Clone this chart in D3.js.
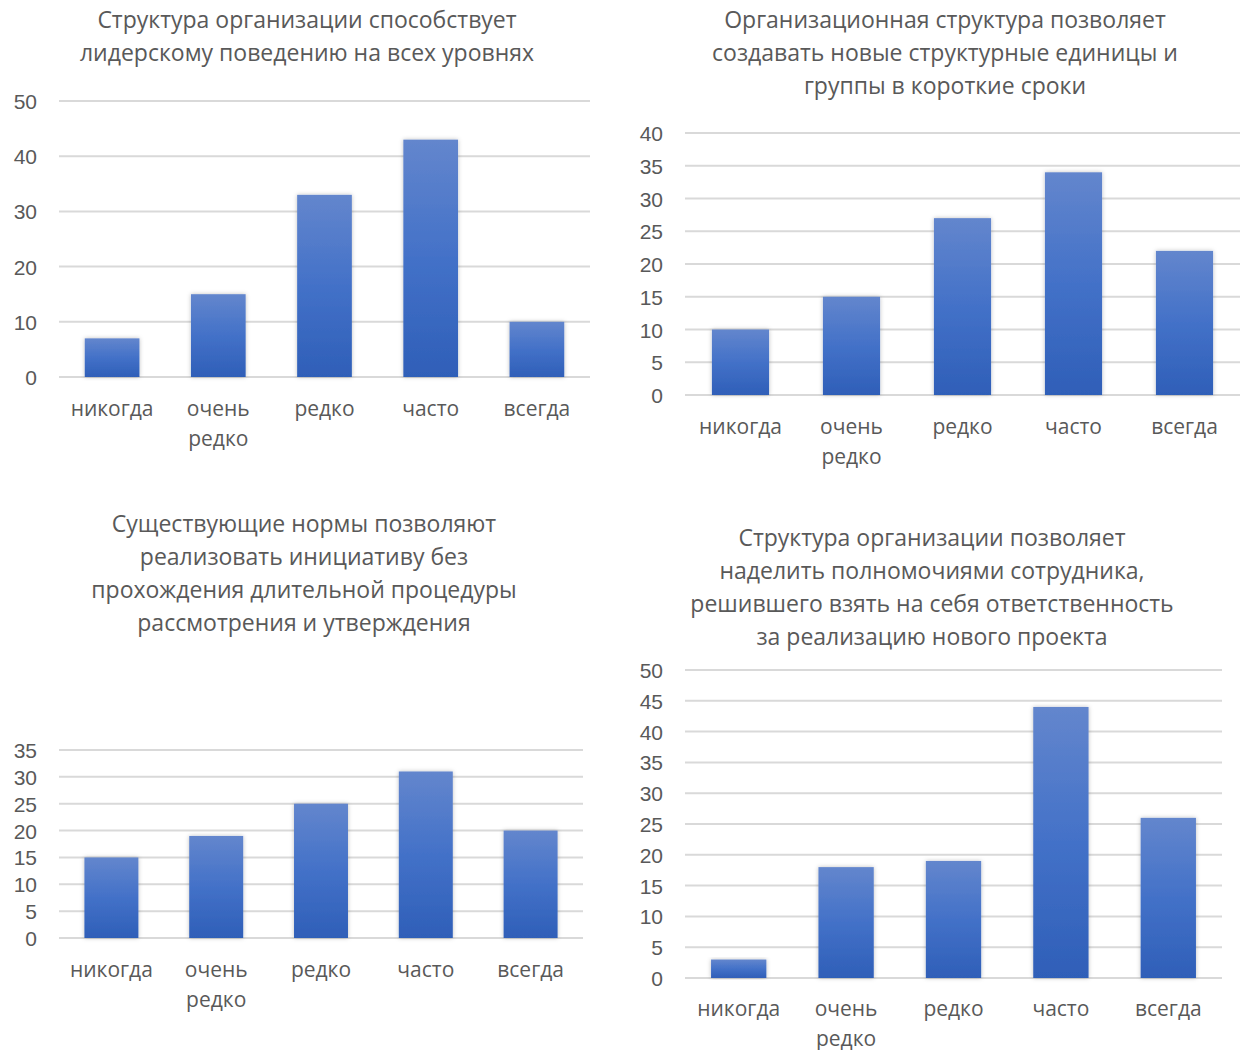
<!DOCTYPE html>
<html>
<head>
<meta charset="utf-8">
<script src="https://cdn.jsdelivr.net/npm/d3@7"></script>
<style>
  html, body { margin: 0; padding: 0; background: #fff; }
  svg { display: block; font-family: "Open Sans", "Noto Sans", sans-serif; }
</style>
</head>
<body>
<svg id="chart" width="1248" height="1050"></svg>
<script>
// Answer categories shared by all four survey questions
const categories = ["никогда", "очень редко", "редко", "часто", "всегда"];

// Responses per question
const valuesA = [7, 15, 33, 43, 10];
const valuesB = [10, 15, 27, 34, 22];
const valuesC = [15, 19, 25, 31, 20];
const valuesD = [3, 18, 19, 44, 26];

// Chart titles, one entry per line
const titleA = ["Структура организации способствует", "лидерскому поведению на всех уровнях"];
const titleB = ["Организационная структура позволяет", "создавать новые структурные единицы и", "группы в короткие сроки"];
const titleC = ["Существующие нормы позволяют", "реализовать инициативу без", "прохождения длительной процедуры", "рассмотрения и утверждения"];
const titleD = ["Структура организации позволяет", "наделить полномочиями сотрудника,", "решившего взять на себя ответственность", "за реализацию нового проекта"];

// Y axis ranges and tick steps
const yMaxA = 50, yStepA = 10;
const yMaxB = 40, yStepB = 5;
const yMaxC = 35, yStepC = 5;
const yMaxD = 50, yStepD = 5;

const svg = d3.select("#chart");
const defs = svg.append("defs");

const grad = defs.append("linearGradient")
  .attr("id", "barFill").attr("x1", 0).attr("y1", 0).attr("x2", 0).attr("y2", 1);
grad.append("stop").attr("offset", "0%").attr("stop-color", "#6386cd");
grad.append("stop").attr("offset", "50%").attr("stop-color", "#4371c8");
grad.append("stop").attr("offset", "100%").attr("stop-color", "#2f5fb8");

const shadow = defs.append("filter").attr("id", "barShadow")
  .attr("x", "-20%").attr("y", "-10%").attr("width", "140%").attr("height", "120%");
shadow.append("feDropShadow").attr("dx", 0).attr("dy", 0).attr("stdDeviation", 2)
  .attr("flood-color", "#000").attr("flood-opacity", 0.25);

const textColor = "#595959";

function drawChart(cfg) {
  const g = svg.append("g");

  const x = d3.scaleBand()
    .domain(categories)
    .range([cfg.left, cfg.right])
    .paddingInner(0.485)
    .paddingOuter(0.2425);

  const y = d3.scaleLinear()
    .domain([0, cfg.yMax])
    .range([cfg.bottom, cfg.top]);

  const ticks = d3.range(0, cfg.yMax + cfg.step / 2, cfg.step);

  // Horizontal gridlines
  g.append("g").selectAll("line").data(ticks).join("line")
    .attr("x1", cfg.left).attr("x2", cfg.right)
    .attr("y1", d => y(d)).attr("y2", d => y(d))
    .attr("stroke", "#d9d9d9").attr("stroke-width", 2);

  // Y axis labels
  const yAxis = d3.axisLeft(y).tickValues(ticks).tickSize(0).tickPadding(0);
  const ya = g.append("g").attr("transform", `translate(${cfg.tickX},0)`).call(yAxis);
  ya.select(".domain").remove();
  ya.selectAll("text")
    .attr("fill", textColor).style("font-size", "21px")
    .attr("dy", "0.36em");

  // Bars
  g.append("g").selectAll("rect").data(cfg.values).join("rect")
    .attr("x", (d, i) => x(categories[i]))
    .attr("width", x.bandwidth())
    .attr("y", d => y(d))
    .attr("height", d => y(0) - y(d))
    .attr("fill", "url(#barFill)")
    .attr("filter", "url(#barShadow)");

  // Category labels (wrapped on spaces)
  const xa = g.append("g");
  categories.forEach(c => {
    const words = c.split(" ");
    const t = xa.append("text")
      .attr("x", x(c) + x.bandwidth() / 2)
      .attr("y", cfg.catY)
      .attr("text-anchor", "middle")
      .attr("fill", textColor).style("font-size", "21px");
    words.forEach((w, k) => {
      t.append("tspan").attr("x", x(c) + x.bandwidth() / 2)
        .attr("y", cfg.catY + k * 29.5).text(w);
    });
  });

  // Title
  const tt = g.append("text").attr("text-anchor", "middle")
    .attr("fill", textColor).style("font-size", "23px");
  cfg.title.forEach((line, k) => {
    tt.append("tspan").attr("x", cfg.titleX)
      .attr("y", cfg.titleY + k * 33).text(line);
  });
}

drawChart({ values: valuesA, title: titleA, yMax: yMaxA, step: yStepA,
  left: 59, right: 590, top: 101, bottom: 377, tickX: 37,
  catY: 416, titleX: 307, titleY: 28 });

drawChart({ values: valuesB, title: titleB, yMax: yMaxB, step: yStepB,
  left: 685, right: 1240, top: 133, bottom: 395, tickX: 663,
  catY: 434, titleX: 945, titleY: 28 });

drawChart({ values: valuesC, title: titleC, yMax: yMaxC, step: yStepC,
  left: 59, right: 583, top: 750, bottom: 938, tickX: 37,
  catY: 977, titleX: 304, titleY: 532 });

drawChart({ values: valuesD, title: titleD, yMax: yMaxD, step: yStepD,
  left: 685, right: 1222, top: 670, bottom: 978, tickX: 663,
  catY: 1016, titleX: 932, titleY: 546 });
</script>
</body>
</html>
